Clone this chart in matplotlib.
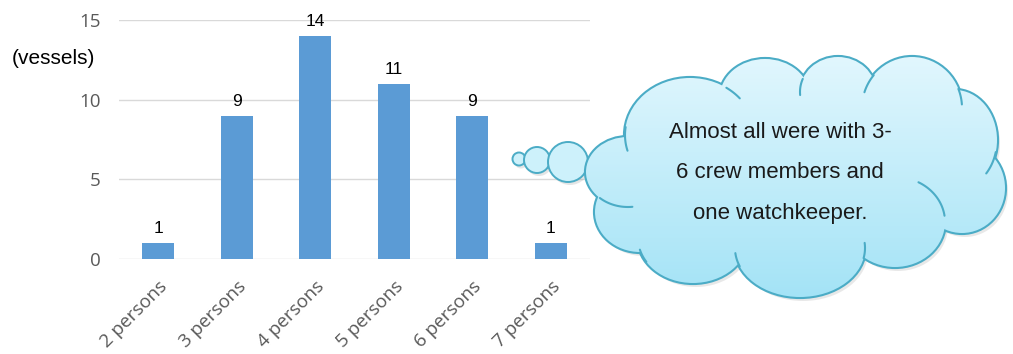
import numpy as np
import matplotlib
matplotlib.use('Agg')
import matplotlib.pyplot as plt
import matplotlib.transforms as mtransforms
from matplotlib.patches import Ellipse, Circle

# crew size per vessel
categories = ['2 persons', '3 persons', '4 persons', '5 persons', '6 persons', '7 persons']
vessels = [1, 9, 14, 11, 9, 1]

note_lines = ['Almost all were with 3-', '6 crew members and', 'one watchkeeper.']

fig = plt.figure(figsize=(10.13, 3.54), dpi=100)
ax = fig.add_axes([0.1175, 0.268, 0.4649, 0.6757])

x = np.arange(len(categories))
bars = ax.bar(x, vessels, width=0.41, color='#5B9BD5', zorder=3)
for b, v in zip(bars, vessels):
    ax.annotate(str(v), (b.get_x() + b.get_width() / 2, v), xytext=(0, 5),
                textcoords='offset points', ha='center', va='bottom',
                fontsize=12.5, family='Liberation Sans', color='black')

ax.set_xlim(-0.5, len(categories) - 0.5)
ax.set_ylim(0, 15)
ax.set_yticks([0, 5, 10, 15])
ax.set_xticks(x)
ax.set_xticklabels(categories, rotation=45, ha='right', rotation_mode='anchor',
                   fontsize=13.5, family='Open Sans', color='#595959')
shift = mtransforms.ScaledTranslation(-4 / 100, 0, fig.dpi_scale_trans)
for lab in ax.get_xticklabels():
    lab.set_transform(lab.get_transform() + shift)
for lab in ax.get_yticklabels():
    lab.set_fontsize(13.5)
    lab.set_family('Open Sans')
    lab.set_color('#595959')
ax.tick_params(length=0)
ax.tick_params(axis='y', pad=13)
ax.tick_params(axis='x', pad=13)
ax.grid(axis='y', color='#D9D9D9', lw=1, zorder=0)
for s in ax.spines.values():
    s.set_visible(False)

fig.text(12 / 1013, 1 - 59 / 354, '(vessels)', fontsize=15, family='Liberation Sans',
         va='center', ha='left', color='black')

# thought bubble drawn in pixel units on an overlay
ov = fig.add_axes([0, 0, 1, 1], zorder=5)
ov.axis('off')

edge = '#4BACC6'
grad = np.linspace(0, 1, 256).reshape(-1, 1, 1)
top = np.array([0.89, 0.97, 0.995])
bot = np.array([0.64, 0.89, 0.965])
img = top + grad * (bot - top)

# (cx, cy, width, height) of the cloud lobes
lobes = [
    (795, 175, 320, 170),
    (690, 135, 130, 114),
    (765, 97, 90, 76),
    (838, 92, 76, 70),
    (912, 108, 100, 102),
    (955, 140, 84, 100),
    (962, 188, 86, 90),
    (895, 222, 100, 90),
    (800, 248, 130, 98),
    (693, 238, 110, 90),
    (640, 212, 90, 80),
    (628, 172, 84, 70),
]

# short inner strokes where lobes meet: (lobe index, start deg, end deg)
inner = [
    (1, 40, 56), (1, 172, 196), (3, 158, 185), (4, 140, 162), (4, 4, 22),
    (5, -42, -14), (7, 8, 62), (8, -12, 6), (8, 186, 202), (9, 195, 212),
    (11, 228, 276),
]

# small bubbles
for cx, cy, r in [(519, 159, 6.5), (537, 160, 13), (568, 162, 20)]:
    ov.add_patch(Circle((cx + 2, cy + 3), r, color='#999999', alpha=0.25, lw=0, zorder=1))
    ov.add_patch(Circle((cx, cy), r, facecolor='#CDF1FB', edgecolor=edge, lw=1.4, zorder=2))

for cx, cy, w, h in lobes:
    ov.add_patch(Ellipse((cx + 3, cy + 4), w, h, color='#9A9A9A', alpha=0.22, lw=0, zorder=3))
for cx, cy, w, h in lobes:
    ov.add_patch(Ellipse((cx, cy), w, h, facecolor='none', edgecolor=edge, lw=3, zorder=4))
for cx, cy, w, h in lobes:
    clip = Ellipse((cx, cy), w, h, facecolor='none', edgecolor='none')
    ov.add_patch(clip)
    im = ov.imshow(img, extent=(560, 1013, 300, 50), aspect='auto', zorder=5,
                   interpolation='bilinear')
    im.set_clip_path(clip)

for i, t1, t2 in inner:
    cx, cy, w, h = lobes[i]
    t = np.radians(np.linspace(t1, t2, 30))
    ov.plot(cx + w / 2 * np.cos(t), cy - h / 2 * np.sin(t), color=edge, lw=1.5,
            solid_capstyle='round', zorder=6)

ov.set_xlim(0, 1013)
ov.set_ylim(354, 0)

for i, line in enumerate(note_lines):
    ov.text(780, 133 + 40 * i, line, fontsize=16, family='Liberation Sans',
            ha='center', va='center', color='#1a1a1a', zorder=7)

fig.savefig('out.png', dpi=100)
